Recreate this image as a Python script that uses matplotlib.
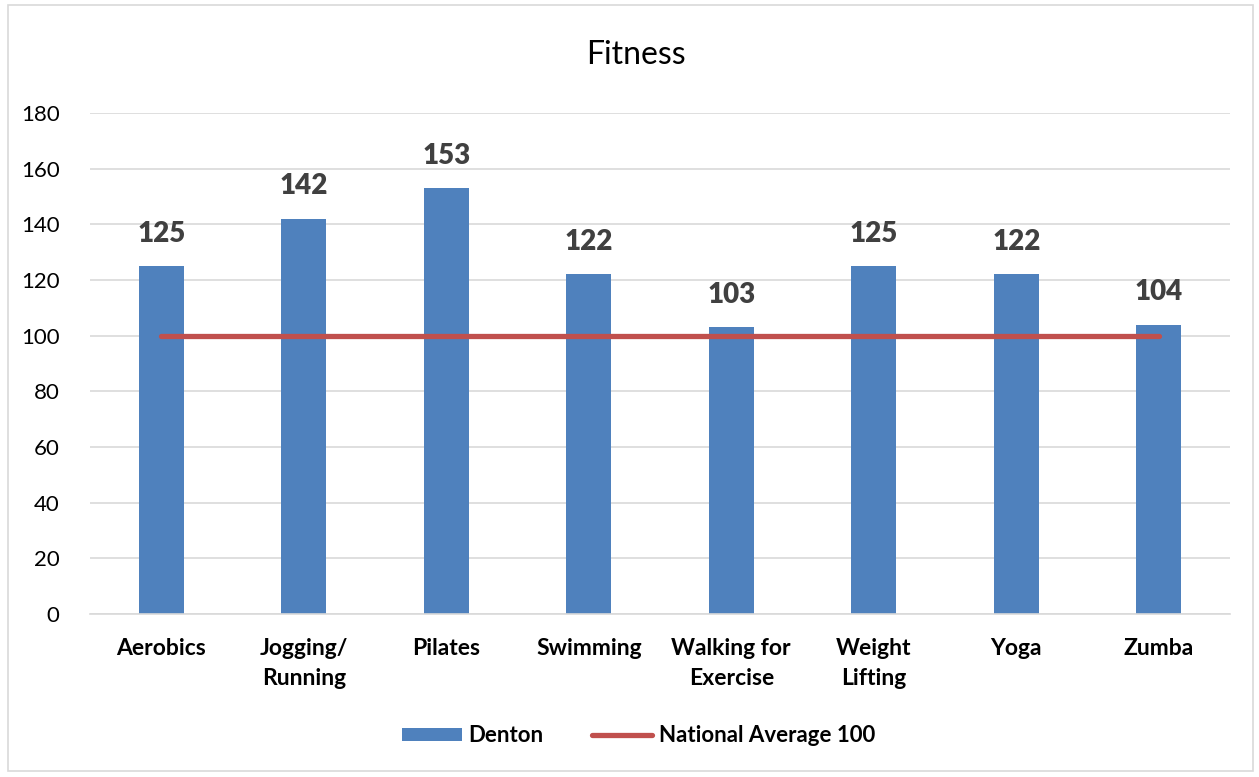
import matplotlib
matplotlib.use("Agg")
import matplotlib.pyplot as plt
from matplotlib.patches import Rectangle
import numpy as np

categories = ["Aerobics", "Jogging/\nRunning", "Pilates", "Swimming",
              "Walking for\nExercise", "Weight\nLifting", "Yoga", "Zumba"]
denton = [125, 142, 153, 122, 103, 125, 122, 104]
national = [100, 100, 100, 100, 100, 100, 100, 100]

plt.rcParams['font.family'] = ['Lato', 'DejaVu Sans']

fig = plt.figure(figsize=(12.59, 7.77), dpi=100)
ax = fig.add_axes([0.0715, 0.2098, 0.9055, 0.6448])

x = np.arange(len(categories))
bars = ax.bar(x, denton, width=0.316, color='#4F81BD', label='Denton', zorder=2)
line, = ax.plot(x, national, color='#C0504D', linewidth=3.8, solid_capstyle='round',
                label='National Average 100', zorder=3)

for xi, v in zip(x, denton):
    ax.text(xi, v + 7, str(v), ha='center', va='bottom', fontsize=20,
            fontweight='heavy', color='#404040')

ax.set_xlim(-0.5, len(categories) - 0.5)
ax.set_ylim(0, 180)
ax.set_yticks(range(0, 181, 20))
ax.yaxis.grid(True, color='#D9D9D9', linewidth=1.2, zorder=0)
ax.set_axisbelow(True)
for s in ['top', 'right', 'left']:
    ax.spines[s].set_visible(False)
ax.spines['bottom'].set_color('#D9D9D9')
ax.spines['bottom'].set_linewidth(1.2)
ax.tick_params(axis='both', length=0)
ax.tick_params(axis='y', labelsize=16, pad=22)
ax.set_xticks(x)
ax.set_xticklabels(categories, fontsize=16.5, fontweight='bold', linespacing=1.55)
ax.tick_params(axis='x', pad=17)

fig.text(0.505, 0.929, "Fitness", ha='center', va='center', fontsize=23, color='#000000')

leg = fig.legend([bars, line], ['Denton', 'National Average 100'],
                 loc='center', bbox_to_anchor=(0.507, 0.053), ncol=2, frameon=False,
                 prop={'size': 16, 'weight': 'bold'}, handlelength=2.7, handleheight=0.55,
                 columnspacing=2.2, handletextpad=0.3)

fig.patches.append(Rectangle((0.006, 0.008), 0.989, 0.985, transform=fig.transFigure,
                             fill=False, edgecolor='#D9D9D9', linewidth=1.2))

fig.savefig("out.png", dpi=100)
